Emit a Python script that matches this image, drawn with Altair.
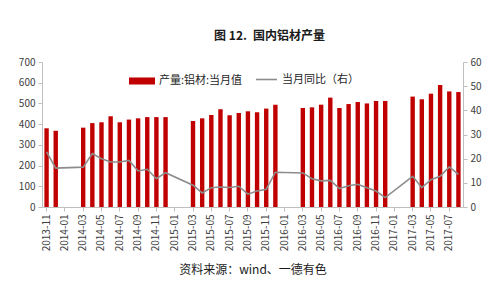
import altair as alt
import pandas as pd

months = [
    "2013-11", "2013-12",
    "2014-01", "2014-02", "2014-03", "2014-04", "2014-05", "2014-06",
    "2014-07", "2014-08", "2014-09", "2014-10", "2014-11", "2014-12",
    "2015-01", "2015-02", "2015-03", "2015-04", "2015-05", "2015-06",
    "2015-07", "2015-08", "2015-09", "2015-10", "2015-11", "2015-12",
    "2016-01", "2016-02", "2016-03", "2016-04", "2016-05", "2016-06",
    "2016-07", "2016-08", "2016-09", "2016-10", "2016-11", "2016-12",
    "2017-01", "2017-02", "2017-03", "2017-04", "2017-05", "2017-06",
    "2017-07", "2017-08",
]

production = [
    380, 368,
    None, None, 383, 405, 409, 438, 409, 422, 428, 434, 434, 434,
    None, None, 415, 428, 444, 472, 443, 454, 462, 457, 475, 494,
    None, None, 478, 481, 494, 528, 478, 497, 507, 500, 512, 512,
    None, None, 533, 520, 547, 589, 558, 555,
]

yoy = [
    22.8, 16.1,
    None, None, 16.5, 22.1, 20.0, 18.6, 18.6, 19.3, 14.9, 15.6, 11.7, 14.2,
    None, None, 9.0, 5.8, 8.0, 8.3, 8.1, 8.6, 5.3, 6.6, 7.3, 14.4,
    None, None, 14.1, 11.7, 10.8, 11.0, 7.6, 8.8, 9.4, 8.0, 6.6, 3.9,
    None, None, 12.7, 8.0, 11.3, 12.7, 16.6, 13.5,
]

bar_name = "产量:铝材:当月值"
line_name = "当月同比（右）"
title_text = "图 12.\u2002国内铝材产量"
source_text = "资料来源：wind、一德有色"
label_months = months[::2]

df = pd.DataFrame({"month": months, "prod": production, "yoy": yoy})

FONT = "Noto Sans CJK SC"
RED = "#C00000"
GREY = "#8C8C8C"
AXIS_GREY = "#BFBFBF"

x_enc = alt.X(
    "month:O",
    scale=alt.Scale(domain=months, paddingInner=0.52, paddingOuter=0.26),
    axis=alt.Axis(
        values=label_months,
        labelAngle=-90,
        labelFontSize=10,
        labelFont=FONT,
        labelColor="#404040",
        labelPadding=3,
        domainColor=AXIS_GREY,
        tickColor=AXIS_GREY,
        tickSize=4,
        title=source_text,
        titleFont=FONT,
        titleFontSize=12,
        titleFontWeight="normal",
        titleColor="#1a1a1a",
        titlePadding=14,
    ),
)

bars = (
    alt.Chart(df)
    .mark_bar()
    .encode(
        x=x_enc,
        y=alt.Y(
            "prod:Q",
            scale=alt.Scale(domain=[0, 700]),
            axis=alt.Axis(
                values=list(range(0, 701, 100)),
                title=None,
                grid=False,
                labelFont=FONT,
                labelFontSize=10,
                labelColor="#404040",
                domainColor=AXIS_GREY,
                tickColor=AXIS_GREY,
                tickSize=4,
                labelPadding=3,
            ),
        ),
        fill=alt.Fill(
            "series:N",
            scale=alt.Scale(domain=[bar_name], range=[RED]),
            legend=alt.Legend(
                title=None,
                orient="none",
                legendX=87,
                legendY=6,
                symbolType="M-1,-0.27L1,-0.27L1,0.27L-1,0.27Z",
                symbolSize=676,
                symbolStrokeWidth=0,
                labelFont=FONT,
                labelFontSize=11,
                labelColor="#262626",
                labelOffset=4,
            ),
        ),
    )
    .transform_calculate(series=f"'{bar_name}'")
)

line = (
    alt.Chart(df)
    .transform_filter("isValid(datum.yoy)")
    .transform_calculate(series2=f"'{line_name}'")
    .mark_line(strokeWidth=1.6)
    .encode(
        x=x_enc,
        y=alt.Y(
            "yoy:Q",
            scale=alt.Scale(domain=[0, 60]),
            axis=alt.Axis(
                orient="right",
                values=list(range(0, 61, 10)),
                title=None,
                grid=False,
                labelFont=FONT,
                labelFontSize=10,
                labelColor="#404040",
                domainColor=AXIS_GREY,
                tickColor=AXIS_GREY,
                tickSize=4,
                labelPadding=3,
            ),
        ),
        stroke=alt.Stroke(
            "series2:N",
            scale=alt.Scale(domain=[line_name], range=[GREY]),
            legend=alt.Legend(
                title=None,
                orient="none",
                legendX=213,
                legendY=6,
                symbolType="stroke",
                symbolSize=441,
                symbolStrokeWidth=1.6,
                labelFont=FONT,
                labelFontSize=11,
                labelColor="#262626",
                labelOffset=4,
            ),
        ),
    )
)

chart = (
    alt.layer(bars, line)
    .resolve_scale(y="independent", fill="independent", stroke="independent")
    .properties(
        width=421,
        height=145,
        autosize=alt.AutoSizeParams(type="none"),
        padding={"left": 42, "top": 62, "right": 37, "bottom": 90},
        title=alt.TitleParams(
            title_text,
            font=FONT,
            fontSize=12,
            fontWeight="bold",
            color="#1a1a1a",
            anchor="middle",
            dx=17,
            offset=14,
        ),
        background="white",
    )
    .configure_view(stroke=None)
)

chart.save("out.html", embed_options={"renderer": "svg", "actions": False})
